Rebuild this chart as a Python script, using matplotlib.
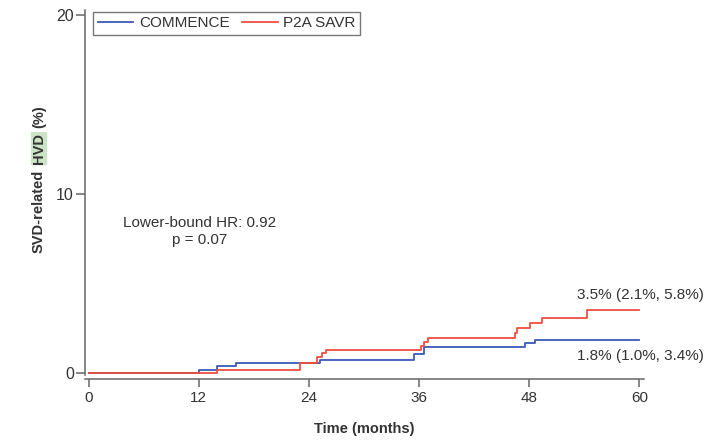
import numpy as np
import matplotlib.pyplot as plt

plt.rcParams['font.family'] = ['Liberation Sans', 'DejaVu Sans']

# Kaplan-Meier style step data (month of event, cumulative %)
commence_t = [0, 12, 14, 16, 25.2, 35.4, 36.5, 47.5, 48.6, 60]
commence_y = [0, 0.18, 0.36, 0.55, 0.73, 1.06, 1.45, 1.65, 1.84, 1.84]
p2a_t = [0, 14, 23, 24.9, 25.4, 25.9, 36.2, 36.5, 37.0, 46.4, 46.7, 48.1, 49.4, 54.3, 60]
p2a_y = [0, 0.18, 0.55, 0.88, 1.1, 1.3, 1.52, 1.75, 1.95, 2.22, 2.5, 2.8, 3.08, 3.5, 3.5]

x_ticks = [0, 12, 24, 36, 48, 60]
y_ticks = [0, 10, 20]
commence_label = '1.8% (1.0%, 3.4%)'
p2a_label = '3.5% (2.1%, 5.8%)'

blue = '#3a5bb8'
red = '#f04e3e'
axis_gray = '#666666'
text_col = '#333333'

fig = plt.figure(figsize=(7.28, 4.41), dpi=100)
ax = fig.add_axes([85/728, 1 - 379/441, 559/728, 369/441])

ax.step(commence_t, commence_y, where='post', color=blue, lw=1.3, label='COMMENCE')
ax.step(p2a_t, p2a_y, where='post', color=red, lw=1.3, label='P2A SAVR')

ax.set_xlim(-0.4, 60.5)
ax.set_ylim(-0.34, 20.28)
ax.set_xticks(x_ticks)
ax.set_yticks(y_ticks)

for s in ['top', 'right']:
    ax.spines[s].set_visible(False)
for s in ['left', 'bottom']:
    ax.spines[s].set_color(axis_gray)
    ax.spines[s].set_linewidth(1.1)
ax.spines['left'].set_bounds(-0.1, 20.28)

ax.tick_params(axis='x', length=5.5, width=1.1, color=axis_gray, labelcolor=text_col,
               labelsize=11, pad=3.5)
ax.tick_params(axis='y', length=6.5, width=1.1, color=axis_gray, labelcolor=text_col,
               labelsize=11.5, pad=1.5)

ax.set_xlabel('Time (months)', fontsize=10.5, fontweight='bold', color=text_col, labelpad=12)

# y label in three pieces so "HVD" can get its green highlight
lab1 = fig.text(39/728, 1 - 253/441, 'SVD-related', rotation=90, ha='center', va='bottom',
                fontsize=10.5, fontweight='bold', color=text_col)
lab2 = ax.annotate('HVD', xy=(0.5, 1), xycoords=lab1, xytext=(0, 4), textcoords='offset points',
                   rotation=90, ha='center', va='bottom', fontsize=10.5, fontweight='bold',
                   color=text_col, annotation_clip=False,
                   bbox=dict(boxstyle='round,pad=0.08', fc='#cde3c5', ec='none'))
ax.annotate('(%)', xy=(0.5, 1), xycoords=lab2, xytext=(0, 4), textcoords='offset points',
            rotation=90, ha='center', va='bottom', fontsize=10.5, fontweight='bold',
            color=text_col, annotation_clip=False)

ax.text(12.1, 7.9, 'Lower-bound HR: 0.92\np = 0.07', ha='center', va='center',
        fontsize=11, color=text_col, linespacing=1.2)
ax.text(53.2, 4.36, p2a_label, ha='left', va='center', fontsize=11, color=text_col)
ax.text(53.2, 0.95, commence_label, ha='left', va='center', fontsize=11, color=text_col)

leg = ax.legend(loc='upper left', bbox_to_anchor=(0.0143, 0.995), borderaxespad=0, ncol=2,
                fontsize=11, handlelength=2.35, handletextpad=0.35, columnspacing=0.8,
                borderpad=0.3, fancybox=False, frameon=True)
leg.get_frame().set_edgecolor('#555555')
leg.get_frame().set_linewidth(1.0)
for t in leg.get_texts():
    t.set_color(text_col)

fig.savefig('out.png', dpi=100)
